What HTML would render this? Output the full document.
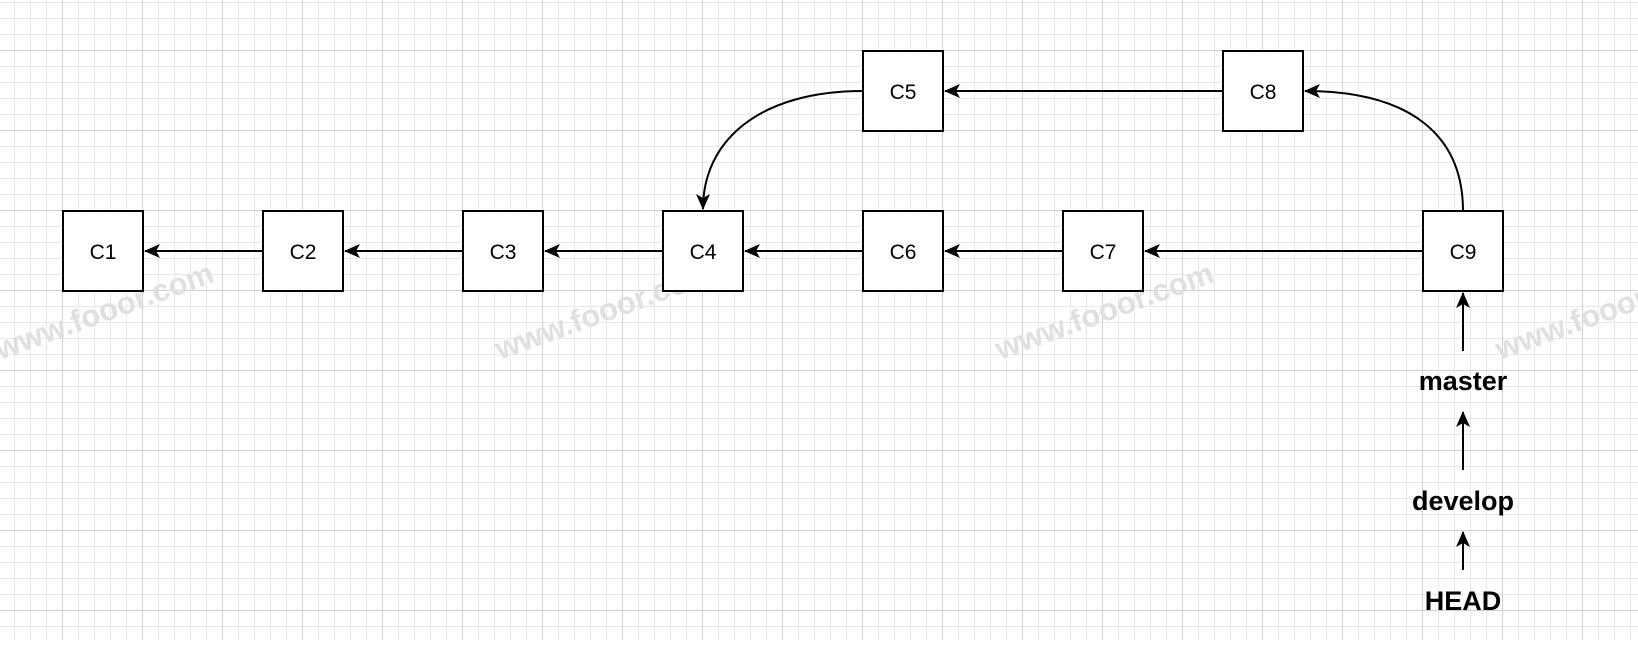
<!DOCTYPE html>
<html><head><meta charset="utf-8"><style>
html,body{margin:0;padding:0;background:#fff;}
body{width:1638px;height:640px;overflow:hidden;}
</style></head><body>
<svg width="1638" height="640" viewBox="0 0 1638 640" xmlns="http://www.w3.org/2000/svg">
<defs>
<pattern id="minor" x="62" y="50" width="16" height="16" patternUnits="userSpaceOnUse">
<path d="M0 0.5 H16 M0.5 0 V16" stroke="#e8e8e8" stroke-width="1" fill="none"/>
</pattern>
<pattern id="major" x="62" y="50" width="80" height="80" patternUnits="userSpaceOnUse">
<path d="M0 0.5 H80 M0.5 0 V80" stroke="#d0d0d0" stroke-width="1" fill="none"/>
</pattern>
<marker id="ah" markerWidth="16" markerHeight="16" refX="15" refY="8" orient="auto" markerUnits="userSpaceOnUse">
<path d="M0,1 L16,8 L0,15 L4,8 Z" fill="#000"/>
</marker>
</defs>
<rect width="1638" height="640" fill="url(#minor)"/>
<rect width="1638" height="640" fill="url(#major)"/>

<g fill="#e0e0e0" font-family="Liberation Sans, sans-serif" font-size="31" font-weight="bold">
<text x="0" y="360" transform="rotate(-20 0 360)">www.fooor.com</text>
<text x="500" y="360" transform="rotate(-20 500 360)">www.fooor.com</text>
<text x="1000" y="360" transform="rotate(-20 1000 360)">www.fooor.com</text>
<text x="1500" y="360" transform="rotate(-20 1500 360)">www.fooor.com</text>
</g>

<g stroke="#000" stroke-width="2" fill="none" marker-end="url(#ah)">
<line x1="263" y1="251" x2="145" y2="251"/>
<line x1="463" y1="251" x2="345" y2="251"/>
<line x1="663" y1="251" x2="545" y2="251"/>
<line x1="863" y1="251" x2="745" y2="251"/>
<line x1="1063" y1="251" x2="945" y2="251"/>
<line x1="1423" y1="251" x2="1145" y2="251"/>
<line x1="1223" y1="91" x2="945" y2="91"/>
<path d="M863,91 C760,91 703,140 703,209"/>
<path d="M1463,211 C1463,135 1410,91 1305,91"/>
<line x1="1463" y1="351" x2="1463" y2="293"/>
<line x1="1463" y1="470" x2="1463" y2="412"/>
<line x1="1463" y1="570" x2="1463" y2="532"/>
</g>

<g stroke="#000" stroke-width="2" fill="#fff">
<rect x="63" y="211" width="80" height="80"/>
<rect x="263" y="211" width="80" height="80"/>
<rect x="463" y="211" width="80" height="80"/>
<rect x="663" y="211" width="80" height="80"/>
<rect x="863" y="211" width="80" height="80"/>
<rect x="1063" y="211" width="80" height="80"/>
<rect x="1423" y="211" width="80" height="80"/>
<rect x="863" y="51" width="80" height="80"/>
<rect x="1223" y="51" width="80" height="80"/>
</g>
<g font-family="Liberation Sans, sans-serif" font-size="21" text-anchor="middle" fill="#000">
<text x="103" y="259">C1</text>
<text x="303" y="259">C2</text>
<text x="503" y="259">C3</text>
<text x="703" y="259">C4</text>
<text x="903" y="259">C6</text>
<text x="1103" y="259">C7</text>
<text x="1463" y="259">C9</text>
<text x="903" y="99">C5</text>
<text x="1263" y="99">C8</text>
</g>
<g font-family="Liberation Sans, sans-serif" font-size="27" font-weight="bold" text-anchor="middle" fill="#000">
<text x="1463" y="390">master</text>
<text x="1463" y="510">develop</text>
<text x="1463" y="610">HEAD</text>
</g>
</svg>
</body></html>
